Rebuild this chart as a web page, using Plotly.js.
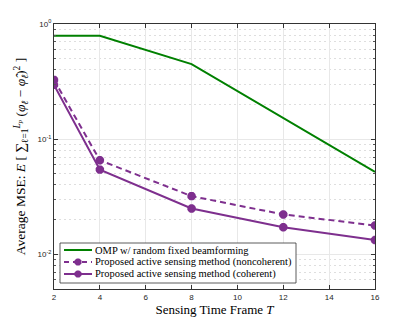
<!DOCTYPE html>
<html>
<head>
<meta charset="utf-8">
<script src="https://cdn.plot.ly/plotly-3.0.1.min.js"></script>
<style>
  html, body { margin: 0; padding: 0; background: #fff; }
  #grafico { width: 415px; height: 325px; }
</style>
</head>
<body>
<div id="grafico"></div>
<script>
// datos
const framesT = [2, 4, 8, 12, 16];
const mseOMP = [0.79, 0.79, 0.448, 0.153, 0.052];
const mseNoCoherente = [0.327, 0.0656, 0.032, 0.0222, 0.0178];
const mseCoherente = [0.296, 0.0544, 0.025, 0.0172, 0.0133];

const nombres = [
    "OMP w/ random fixed beamforming",
    "Proposed active sensing method (noncoherent)",
    "Proposed active sensing method (coherent)"
];

const xTicks = [2, 4, 6, 8, 10, 12, 14, 16];
const yTicks = [1, 0.1, 0.01];
const yTickText = ["10<sup>0</sup>", "10<sup>-1</sup>", "10<sup>-2</sup>"];
const yMinorTicks = [0.006, 0.007, 0.008, 0.009, 0.02, 0.03, 0.04, 0.05, 0.06, 0.07, 0.08, 0.09,
                     0.2, 0.3, 0.4, 0.5, 0.6, 0.7, 0.8, 0.9];

const verde = "#008000";
const violeta = "#7E2F8E";
const serif = "'Liberation Serif', 'DejaVu Serif', serif";

// area del grafico en pixeles (para la leyenda dibujada a mano)
const W = 415, H = 325;
const M = { l: 54, r: 40, t: 24, b: 36 };
const anchoP = W - M.l - M.r;
const altoP = H - M.t - M.b;
const px = x => (x - M.l) / anchoP;
const py = y => (H - M.b - y) / altoP;

const marcador = { symbol: "asterisk-open", size: 7, color: violeta, line: { width: 3, color: violeta } };

const traceOMP = {
    x: framesT, y: mseOMP,
    mode: "lines", type: "scatter", name: nombres[0],
    line: { color: verde, width: 2 }
};

const traceNoCoherente = {
    x: framesT, y: mseNoCoherente,
    mode: "lines+markers", type: "scatter", name: nombres[1],
    line: { color: violeta, width: 2, dash: "6px,4px" },
    marker: marcador
};

const traceCoherente = {
    x: framesT, y: mseCoherente,
    mode: "lines+markers", type: "scatter", name: nombres[2],
    line: { color: violeta, width: 2 },
    marker: marcador
};

// leyenda: caja, muestras y textos
const filas = [250, 262, 274];
const estilos = [
    { color: verde, dash: "solid", marca: false },
    { color: violeta, dash: "5px,4px", marca: true },
    { color: violeta, dash: "solid", marca: true }
];
const asterisco = "M-3.5,0L3.5,0M0,-3.5L0,3.5M-2.5,-2.5L2.5,2.5M-2.5,2.5L2.5,-2.5";

const shapes = [{
    type: "rect", xref: "paper", yref: "paper",
    x0: px(60), x1: px(296), y0: py(283), y1: py(243),
    fillcolor: "#fff", line: { color: "#333", width: 0.8 }, layer: "above"
}];
const annotations = [];
filas.forEach((fy, i) => {
    shapes.push({
        type: "line", xref: "paper", yref: "paper", layer: "above",
        x0: px(64), x1: px(92), y0: py(fy), y1: py(fy),
        line: { color: estilos[i].color, width: 2, dash: estilos[i].dash }
    });
    if (estilos[i].marca) {
        shapes.push({
            type: "path", xref: "paper", yref: "paper", layer: "above",
            xsizemode: "pixel", ysizemode: "pixel",
            xanchor: px(78), yanchor: py(fy),
            path: asterisco,
            line: { color: estilos[i].color, width: 3 }
        });
    }
    annotations.push({
        xref: "paper", yref: "paper",
        x: px(93), y: py(fy),
        xanchor: "left", yanchor: "middle",
        showarrow: false,
        text: nombres[i],
        font: { family: serif, size: 10.5, color: "#000" }
    });
});

const layout = {
    width: W,
    height: H,
    margin: M,
    paper_bgcolor: "#fff",
    plot_bgcolor: "#fff",
    font: { family: "'Liberation Sans', Arial, sans-serif", size: 8, color: "#262626" },
    showlegend: false,
    shapes: shapes,
    annotations: annotations,
    xaxis: {
        range: [2, 16],
        tickvals: xTicks,
        ticks: "inside",
        ticklen: 4,
        tickcolor: "#333",
        showline: true,
        linecolor: "#333",
        linewidth: 1,
        mirror: "ticks",
        showgrid: true,
        gridcolor: "#e8e8e8",
        zeroline: false,
        title: { text: "Sensing Time Frame <i>T</i>", font: { family: serif, size: 13, color: "#000" }, standoff: 4 }
    },
    yaxis: {
        type: "log",
        range: [Math.log10(0.005), 0],
        tickvals: yTicks,
        ticktext: yTickText,
        ticks: "inside",
        ticklen: 4,
        tickcolor: "#333",
        showline: true,
        linecolor: "#333",
        linewidth: 1,
        mirror: "ticks",
        showgrid: true,
        gridcolor: "#e8e8e8",
        zeroline: false,
        minor: {
            tickvals: yMinorTicks,
            ticks: "inside",
            ticklen: 2,
            tickcolor: "#555",
            showgrid: true,
            gridcolor: "#dedede",
            gridwidth: 1,
            griddash: "2px,3px"
        },
        title: {
            text: "Average MSE: <i>E</i> [ ∑<sub>ℓ=1</sub><sup><i>L<sub>p</sub></i></sup> (<i>φ<sub>ℓ</sub></i> − <i>φ̂<sub>ℓ</sub></i>)<sup>2</sup> ]",
            font: { family: serif, size: 13.5, color: "#000" },
            standoff: 8
        }
    }
};

Plotly.newPlot("grafico", [traceOMP, traceNoCoherente, traceCoherente], layout, { staticPlot: true, displayModeBar: false });
</script>
</body>
</html>
